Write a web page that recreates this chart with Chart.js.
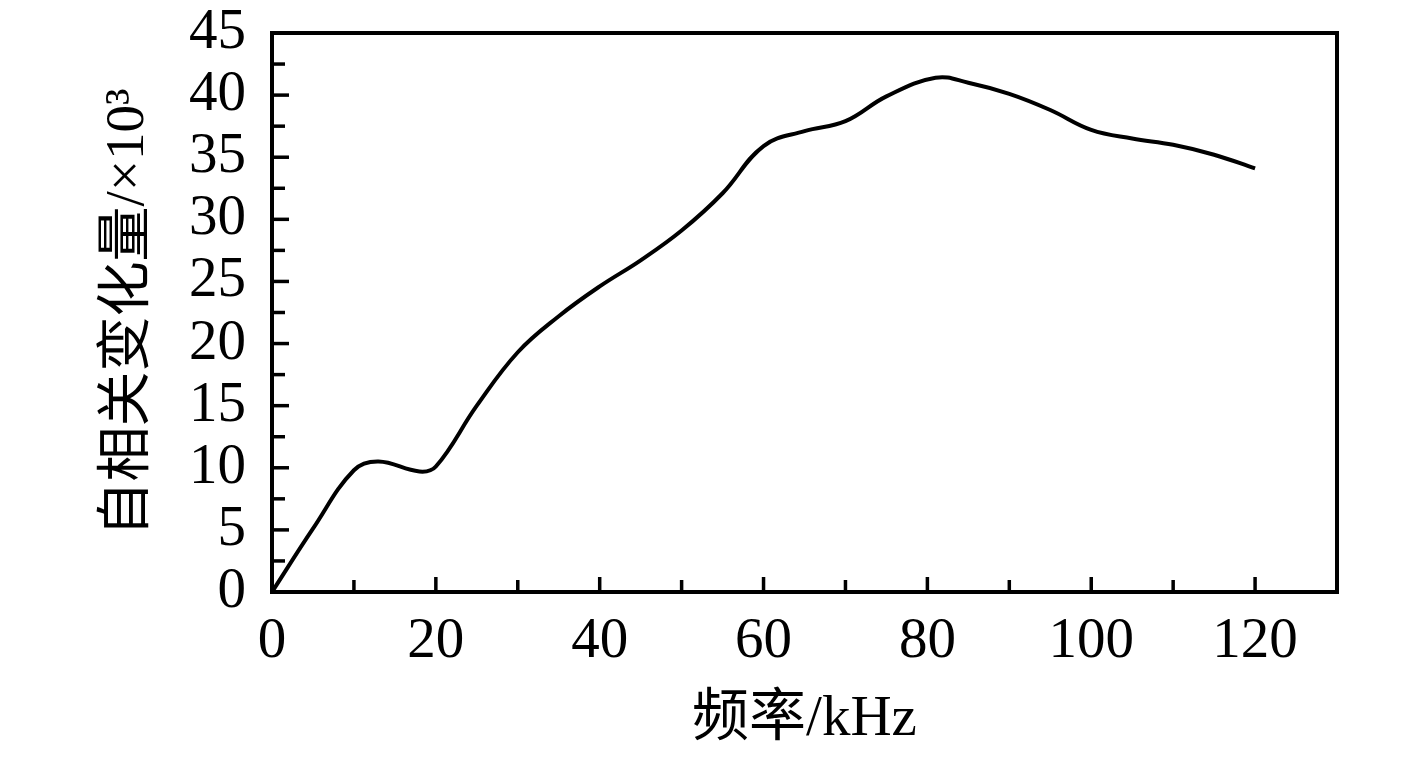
<!DOCTYPE html>
<html>
<head>
<meta charset="utf-8">
<script src="https://cdn.jsdelivr.net/npm/chart.js@4.4.0/dist/chart.umd.min.js"></script>
<style>
  html, body { margin: 0; padding: 0; background: #fff; }
  #wrap { width: 1417px; height: 758px; }
</style>
</head>
<body>
<div id="wrap"><canvas id="c" width="1417" height="758"></canvas></div>
<script>
// frequency (kHz) and autocorrelation change (x10^3)
const freq = [0, 5, 10, 13, 18, 20, 25, 30, 35, 40, 45, 50, 55, 60, 65, 70, 75, 81, 85, 90, 95, 100, 105, 110, 115, 120];
const corr = [0, 5.1, 9.8, 10.5, 9.7, 10.1, 15.0, 19.3, 22.2, 24.6, 26.7, 29.1, 32.1, 35.9, 37.1, 37.9, 39.9, 41.4, 41.0, 40.1, 38.8, 37.2, 36.5, 36.0, 35.2, 34.1];

const xTicks = [0, 20, 40, 60, 80, 100, 120];
const yTicks = [0, 5, 10, 15, 20, 25, 30, 35, 40, 45];

const serif = '"Liberation Serif", "Noto Sans CJK SC", serif';

// inward tick marks + frame
const frame = {
    id: 'frame',
    afterDraw(chart) {
        const { ctx, chartArea: a, scales } = chart;
        ctx.save();
        ctx.strokeStyle = '#000';
        ctx.lineWidth = 3.5;
        for (let v = 2.5; v < 45; v += 2.5) {
            const y = scales.y.getPixelForValue(v);
            const len = (v % 5 === 0) ? 17 : 13;
            ctx.beginPath();
            ctx.moveTo(a.left, y);
            ctx.lineTo(a.left + len, y);
            ctx.stroke();
        }
        for (let v = 10; v <= 120; v += 10) {
            const x = scales.x.getPixelForValue(v);
            const len = (v % 20 === 0) ? 15 : 12;
            ctx.beginPath();
            ctx.moveTo(x, a.bottom);
            ctx.lineTo(x, a.bottom - len);
            ctx.stroke();
        }
        ctx.lineWidth = 4;
        ctx.strokeRect(a.left, a.top, a.right - a.left, a.bottom - a.top);
        ctx.restore();
    }
};

new Chart(document.getElementById('c'), {
    type: 'line',
    data: {
        datasets: [{
            data: freq.map((f, i) => ({ x: f, y: corr[i] })),
            borderColor: '#000',
            borderWidth: 4,
            pointRadius: 0,
            tension: 0.4,
            fill: false
        }]
    },
    options: {
        responsive: false,
        animation: false,
        layout: { padding: { top: 33, right: 80, left: 0, bottom: 0 } },
        plugins: { legend: { display: false }, tooltip: { enabled: false } },
        scales: {
            x: {
                type: 'linear',
                min: 0, max: 130,
                afterFit: s => { s.height = 166; s.paddingLeft = 0; s.paddingRight = 0; },
                afterBuildTicks: s => { s.ticks = xTicks.map(v => ({ value: v })); },
                grid: { display: false, drawTicks: false },
                border: { display: false },
                ticks: { color: '#000', padding: 16, autoSkip: false, maxRotation: 0, font: { family: serif, size: 57 } },
                title: {
                    display: true, text: '频率/kHz', color: '#000',
                    font: { family: serif, size: 57 }, padding: { top: 2 }
                }
            },
            y: {
                min: 0, max: 45,
                afterFit: s => { s.width = 272; s.paddingTop = 0; s.paddingBottom = 0; },
                afterBuildTicks: s => { s.ticks = yTicks.map(v => ({ value: v })); },
                grid: { display: false, drawTicks: false },
                border: { display: false },
                ticks: { color: '#000', padding: 26, autoSkip: false, font: { family: serif, size: 57 } },
                title: {
                    display: true, text: '自相关变化量/×10³', color: '#000',
                    font: { family: serif, size: 55 }, padding: { top: 96, bottom: 0 }
                }
            }
        }
    },
    plugins: [frame]
});
</script>
</body>
</html>
